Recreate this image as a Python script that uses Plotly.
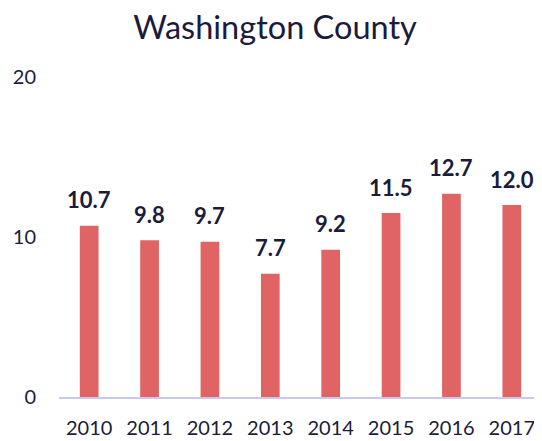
import plotly.graph_objects as go

years = [2010, 2011, 2012, 2013, 2014, 2015, 2016, 2017]
values = [10.7, 9.8, 9.7, 7.7, 9.2, 11.5, 12.7, 12.0]
y_ticks = [0, 10, 20]
title_text = "Washington County"

ink = "#1b1b3a"
bar_color = "#E06464"

# the page body has an 8px default margin, so the figure is 8px smaller
W, H = 534, 433

fig = go.Figure()
fig.add_trace(go.Bar(x=years, y=values, width=0.31,
                     marker=dict(color=bar_color, line=dict(width=0)),
                     hoverinfo="x+y"))

for yr, v in zip(years, values):
    fig.add_annotation(x=yr, y=v, text=f"<b>{v:.1f}</b>", showarrow=False,
                       yanchor="middle", yshift=26,
                       font=dict(family="Lato", size=22, color=ink))

fig.update_layout(
    width=W, height=H,
    margin=dict(l=51, r=0, t=69, b=44),
    paper_bgcolor="white", plot_bgcolor="white",
    showlegend=False,
    title=dict(text=title_text, x=0.5, xref="container", xanchor="center",
               y=1 - 20 / H, yref="container", yanchor="middle",
               font=dict(family="Lato", size=32.5, color=ink)),
    font=dict(family="Lato", size=20, color=ink),
)
fig.update_xaxes(type="linear", range=[years[0] - 0.5, years[-1] + 0.5],
                 tickvals=years, ticktext=[str(y) for y in years],
                 showline=True, linecolor="#c9c9ec", linewidth=2, ticks="",
                 ticklabelstandoff=12,
                 showgrid=False, zeroline=False, tickfont=dict(size=20, color=ink))
fig.update_yaxes(range=[0, 20], tickvals=y_ticks, showgrid=False, zeroline=False,
                 showline=False, ticks="", ticklabelstandoff=22,
                 tickfont=dict(size=20, color=ink))

fig.write_html("out.html")
